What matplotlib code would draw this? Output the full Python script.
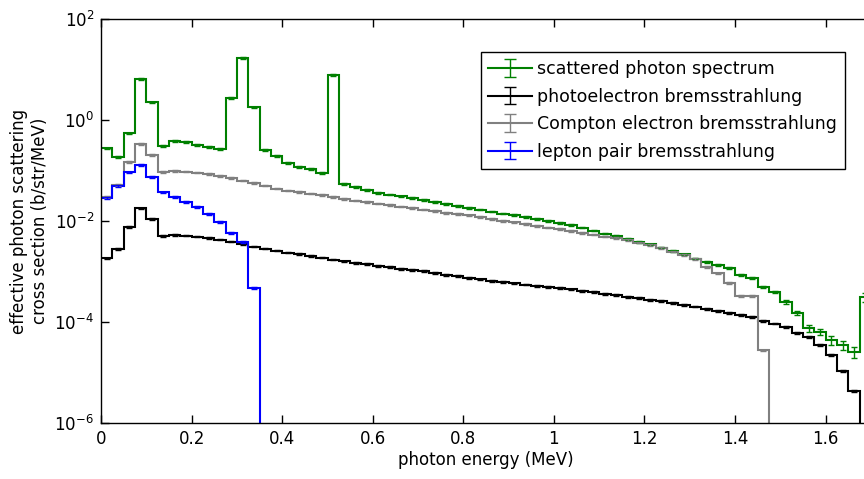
import numpy as np
import matplotlib
matplotlib.use("Agg")
import matplotlib.pyplot as plt

# bin edges (MeV), 0.025 MeV wide
edges = np.arange(0, 1.7001, 0.025)
centers = 0.5 * (edges[:-1] + edges[1:])

# effective photon scattering cross section (b/str/MeV)
scattered = [0.275, 0.187, 0.545, 6.49, 2.24, 0.310, 0.384, 0.366, 0.327, 0.292,
             0.267, 2.77, 17.1, 1.78, 0.255, 0.194, 0.143, 0.119, 0.106, 0.0904,
             7.78, 0.0541, 0.0478, 0.0411, 0.0366, 0.0335, 0.0308, 0.0285, 0.0261, 0.0238,
             0.0219, 0.0201, 0.0184, 0.0169, 0.0154, 0.0141, 0.0130, 0.0119, 0.0110, 0.0101,
             0.00925, 0.00834, 0.00743, 0.00649, 0.00565, 0.00500, 0.00443, 0.00391, 0.00344, 0.00299,
             0.00255, 0.00218, 0.00181, 0.00154, 0.00135, 0.00117, 8.53e-4, 7.43e-4, 5.00e-4, 3.98e-4,
             2.52e-4, 1.51e-4, 7.60e-5, 6.43e-5, 4.41e-5, 3.51e-5, 2.58e-5, 3.13e-4]

photoelectron = [1.82e-3, 2.79e-3, 7.71e-3, 0.0178, 0.0110, 5.12e-3, 5.28e-3, 5.16e-3, 4.93e-3, 4.60e-3,
                 4.31e-3, 3.93e-3, 3.51e-3, 3.13e-3, 2.85e-3, 2.61e-3, 2.38e-3, 2.22e-3, 2.05e-3, 1.89e-3,
                 1.73e-3, 1.59e-3, 1.49e-3, 1.40e-3, 1.30e-3, 1.22e-3, 1.14e-3, 1.08e-3, 1.01e-3, 9.38e-4,
                 8.69e-4, 8.07e-4, 7.50e-4, 6.98e-4, 6.55e-4, 6.19e-4, 5.83e-4, 5.53e-4, 5.24e-4, 4.95e-4,
                 4.67e-4, 4.43e-4, 4.15e-4, 3.89e-4, 3.65e-4, 3.43e-4, 3.18e-4, 2.96e-4, 2.75e-4, 2.57e-4,
                 2.40e-4, 2.21e-4, 2.02e-4, 1.84e-4, 1.67e-4, 1.52e-4, 1.38e-4, 1.26e-4, 1.05e-4, 9.33e-5,
                 7.96e-5, 6.05e-5, 5.12e-5, 3.51e-5, 2.22e-5, 1.07e-5, 4.31e-6, 0]

compton = [0.0303, 0.0516, 0.149, 0.335, 0.203, 0.0946, 0.0977, 0.0955, 0.0912, 0.0853,
           0.0778, 0.0710, 0.0634, 0.0565, 0.0505, 0.0441, 0.0402, 0.0375, 0.0351, 0.0327,
           0.0299, 0.0273, 0.0255, 0.0238, 0.0222, 0.0207, 0.0194, 0.0181, 0.0169, 0.0158,
           0.0147, 0.0138, 0.0129, 0.0120, 0.0111, 0.0102, 0.00942, 0.00873, 0.00804, 0.00743,
           0.00685, 0.00634, 0.00578, 0.00541, 0.00493, 0.00456, 0.00421, 0.00375, 0.00335, 0.00292,
           0.00249, 0.00212, 0.00177, 0.00124, 9.20e-4, 6.00e-4, 3.32e-4, 3.32e-4, 2.73e-5, 0,
           0, 0, 0, 0, 0, 0, 0, 0]

lepton = [0.0282, 0.0501, 0.0920, 0.129, 0.0753, 0.0370, 0.0303, 0.0241, 0.0192, 0.0138,
          0.00968, 0.00586, 0.00389, 4.71e-4] + [0] * 54

# relative statistical errors
rel_err = 0.04
scattered_tail_err = {60: 0.08, 61: 0.1, 62: 0.15, 63: 0.15, 64: 0.2, 65: 0.2, 66: 0.25, 67: 0.2}

series = [
    ("scattered photon spectrum", scattered, "#008000"),
    ("photoelectron bremsstrahlung", photoelectron, "black"),
    ("Compton electron bremsstrahlung", compton, "#808080"),
    ("lepton pair bremsstrahlung", lepton, "#0000ff"),
]

plt.rcParams["font.family"] = "DejaVu Sans"
plt.rcParams["font.size"] = 12
plt.rcParams["mathtext.default"] = "regular"

fig = plt.figure(figsize=(8.64, 4.79), dpi=100)
ax = fig.add_axes([0.117, 0.117, 0.891, 0.843])

handles = []
for label, vals, col in series:
    v = np.array(vals, dtype=float)
    ax.stairs(np.where(v > 0, v, 1e-12), edges, color=col, lw=1.5, baseline=None)
    err = v * rel_err
    caps = np.full(len(v), 2.5)
    if label.startswith("scattered"):
        for i, r in scattered_tail_err.items():
            err[i] = v[i] * r
    m = v > 0
    ax.errorbar(centers[m], v[m], yerr=err[m], fmt="none", ecolor=col,
                elinewidth=1, capsize=2.5, capthick=1)
    h = ax.errorbar([np.nan], [np.nan], yerr=[np.nan], fmt="-", color=col,
                    lw=1.5, elinewidth=1, capsize=4, capthick=1, label=label)
    handles.append(h)

ax.set_yscale("log")
ax.set_ylim(1e-6, 1e2)
ax.set_xlim(0, 1.7)
ax.set_yticks([1e-6, 1e-4, 1e-2, 1e0, 1e2])
ax.minorticks_off()
ax.set_xticks([0, 0.2, 0.4, 0.6, 0.8, 1, 1.2, 1.4, 1.6])
ax.set_xticklabels(["0", "0.2", "0.4", "0.6", "0.8", "1", "1.2", "1.4", "1.6"])
ax.tick_params(direction="in", length=6, width=1, top=True, right=False, labelsize=12, pad=5)
for s in ax.spines.values():
    s.set_linewidth(1)

ax.set_xlabel("photon energy (MeV)", fontsize=12, labelpad=2)
ax.set_ylabel("effective photon scattering\ncross section (b/str/MeV)", fontsize=12, labelpad=4)

leg = ax.legend(handles=handles, loc="upper right", bbox_to_anchor=(0.966, 0.918),
                borderaxespad=0, fancybox=False, edgecolor="black", framealpha=1, fontsize=12.5,
                handlelength=2.5, handletextpad=0.3, borderpad=0.45, labelspacing=0.55)
leg.get_frame().set_linewidth(1)

fig.savefig("out.png", dpi=100)
